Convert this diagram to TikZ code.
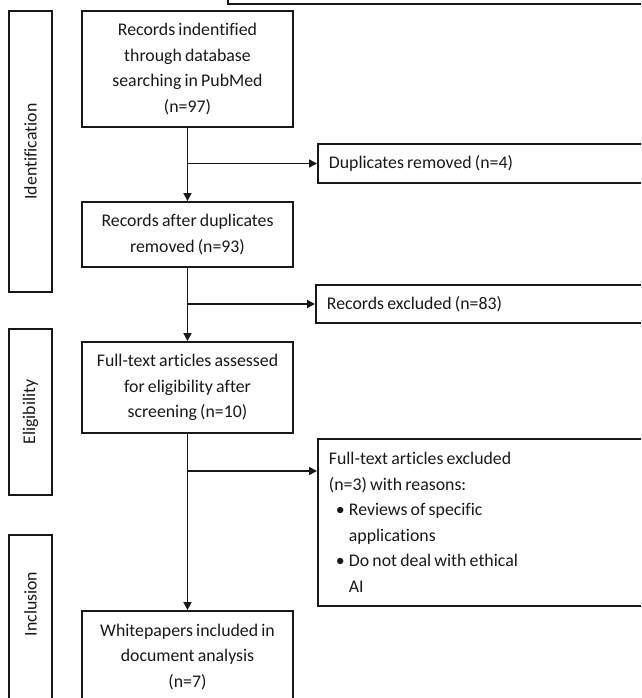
\documentclass[tikz,border=0pt]{standalone}
\usepackage{fontspec}
\setmainfont{Carlito}[Ligatures=NoCommon, WordSpace=0.8]
\usetikzlibrary{arrows.meta}
\usetikzlibrary{positioning}
\tikzset{
  flowbox/.style={draw, line width=1.8pt, minimum width=211pt, align=center,
    inner sep=0pt},
  sidebox/.style={draw, line width=1.8pt, anchor=west, minimum width=340pt,
    text width=320pt, align=flush left, inner xsep=11pt, inner ysep=0pt},
  phasebox/.style={draw, line width=1.8pt, minimum height=43pt, rotate=90,
    inner sep=0pt},
  phasetext/.style={rotate=90, inner sep=0pt}
}
\newcommand{\bitem}[1]{\makebox[20pt][l]{\hspace{7pt}\textbullet}#1}

\begin{document}
\begin{tikzpicture}[x=1pt, y=-1pt,
      >={Triangle[length=8pt, width=8pt]},
      font=\fontsize{17.8}{25.5}\selectfont,
      color=black!90,
      line width=1.6pt]

    \useasboundingbox (0,0) rectangle (641,698);
    \clip (0,0) rectangle (641,698);

    % leftover frame at the top
    \draw (228,-10) -- (228,4) -- (660,4);

    % phases
    \node[phasebox, minimum width=281pt]
      (Identification) at (30.5,151.5) {Identification};
    \node[phasebox, minimum width=166pt]
      (Eligibility) at (30.5,412) {Eligibility};
    \node[phasebox, minimum width=230pt]
      (Inclusion) at (30.5,650) {};
    \node[phasetext]
      (InclusionText) at (30.5,604) {Inclusion};

    % main column
    \node[flowbox, minimum height=116pt]
      (Identified) at (187.5,69) {Records indentified\\through database\\searching in PubMed\\(n=97)};
    \node[flowbox, minimum height=65pt]
      (AfterDuplicates) at (187.5,234.5) {Records after duplicates\\removed (n=93)};
    \node[flowbox, minimum height=91pt]
      (Assessed) at (187.5,387.5) {Full-text articles assessed\\for eligibility after\\screening (n=10)};
    \node[flowbox, minimum height=92pt]
      (Included) at (187.5,657) {Whitepapers included in\\document analysis\\(n=7)};

    % side column
    \node[sidebox, minimum height=39pt]
      (Duplicates) at (317,163.5) {Duplicates removed (n=4)};
    \node[sidebox, minimum height=38pt]
      (Excluded) at (315,304) {Records excluded (n=83)};
    \node[sidebox, minimum height=167pt]
      (FullExcluded) at (317,522.5) {Full-text articles excluded\\(n=3) with reasons:\\
        \bitem{Reviews of specific}\\\hspace*{20pt}applications\\
        \bitem{Do not deal with ethical}\\\hspace*{20pt}AI};

    \coordinate (Split1) at (Identified.south |- Duplicates.west);
    \coordinate (Split2) at (AfterDuplicates.south |- Excluded.west);
    \coordinate (Split3) at (Assessed.south |- 0,471);

    \path[->]
      (Identified) edge (AfterDuplicates)
      (AfterDuplicates) edge (Assessed)
      (Assessed) edge (Included)
      (Split1) edge (Duplicates.west)
      (Split2) edge (Excluded.west)
      (Split3) edge (Split3 -| FullExcluded.west);

  \end{tikzpicture}
\end{document}
